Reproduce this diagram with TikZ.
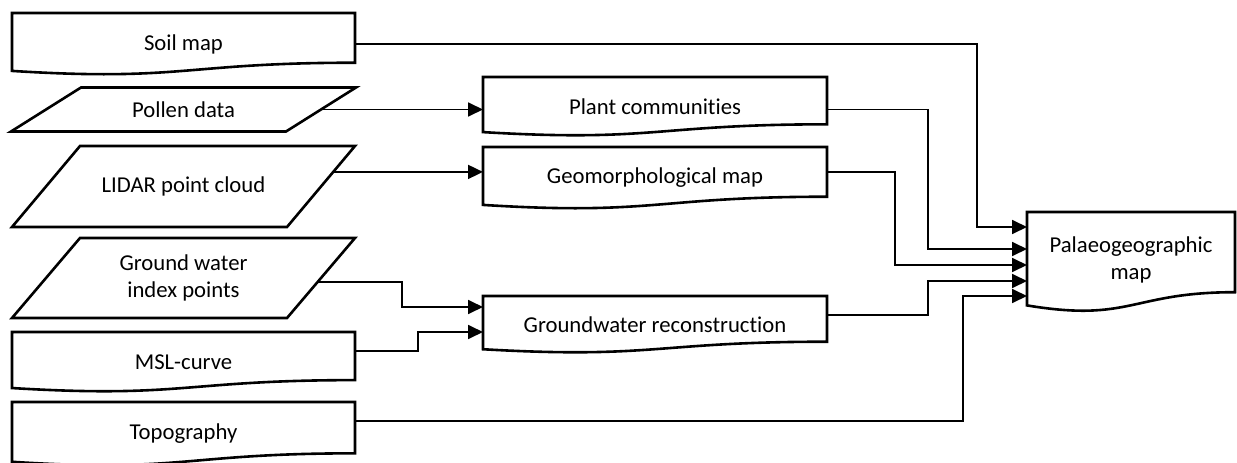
\documentclass[tikz,border=0pt]{standalone}
\usepackage{fontspec}
\setmainfont[Ligatures=NoCommon]{Carlito}
\usetikzlibrary{calc}
\usetikzlibrary{arrows.meta}

\newcommand{\docoutline}[1]{%
  \draw[boxline] (#1.north west) -- (#1.north east)
    -- ($(#1.south east)!0.198!(#1.north east)$)
    .. controls ($(#1.south)!0.198!(#1.north)$) and ($(#1.south)!-0.107!(#1.north)$)
    .. ($(#1.south west)!0.066!(#1.north west)$) -- cycle;}
\newcommand{\dataoutline}[2]{%
  \draw[boxline] ([xshift=#2]#1.north west) coordinate (#1-tl)
    -- ([xshift=#2]#1.north east) coordinate (#1-tr)
    -- ([xshift=-#2]#1.south east) coordinate (#1-br)
    -- ([xshift=-#2]#1.south west) coordinate (#1-bl) -- cycle;}

\begin{document}
\begin{tikzpicture}[x=1pt, y=-1pt,
    every node/.style={font=\fontsize{22.7}{27.7}\selectfont},
    docbox/.style={inner sep=0pt, outer sep=0pt, align=center},
    databox/.style={inner sep=0pt, outer sep=0pt, align=center},
    boxline/.style={line width=2.6pt},
    flow/.style={line width=1.8pt, -{Triangle[length=15pt, width=14pt]}}]
  \useasboundingbox (0,0) rectangle (1237,463);
  \node[docbox, minimum width=343pt, minimum height=62pt] (soil) at (183.5,44) {Soil map};
  \node[databox, minimum width=275pt, minimum height=44pt] (pollen) at (183.5,109.5) {Pollen data};
  \node[databox, minimum width=275pt, minimum height=81pt] (lidar) at (183.5,186.5) {LIDAR point cloud};
  \node[databox, minimum width=275pt, minimum height=80pt] (gw) at (183.5,278) {Ground water\\index points};
  \node[docbox, minimum width=343pt, minimum height=60pt] (msl) at (183.5,362) {MSL-curve};
  \node[docbox, minimum width=343pt, minimum height=64pt] (topo) at (183.5,434) {Topography};
  \node[docbox, minimum width=344pt, minimum height=59pt] (plant) at (655,106.5) {Plant communities};
  \node[docbox, minimum width=344pt, minimum height=62pt] (geo) at (655,178) {Geomorphological map};
  \node[docbox, minimum width=344pt, minimum height=57pt] (gwr) at (655,324.5) {Groundwater reconstruction};
  \node[docbox, minimum width=208pt, minimum height=100pt, text depth=8pt] (palaeo) at (1131,262) {Palaeogeographic\\map};

  \docoutline{soil}
  \dataoutline{pollen}{35pt}
  \dataoutline{lidar}{34pt}
  \dataoutline{gw}{34pt}
  \docoutline{msl}
  \docoutline{topo}
  \docoutline{plant}
  \docoutline{geo}
  \docoutline{gwr}
  \docoutline{palaeo}

  \coordinate (pin1) at ([yshift=35pt]palaeo.west);
  \coordinate (pin2) at ([yshift=13pt]palaeo.west);
  \coordinate (pin3) at ([yshift=-3pt]palaeo.west);
  \coordinate (pin4) at ([yshift=-19pt]palaeo.west);
  \coordinate (pin5) at ([yshift=-34pt]palaeo.west);
  \coordinate (gwrin1) at ([yshift=17.5pt]gwr.west);
  \coordinate (gwrin2) at ([yshift=-7.5pt]gwr.west);
  \coordinate (lidarout) at ($(lidar-br)!0.68!(lidar-tr)$);
  \coordinate (gwout) at ($(gw-br)!0.45!(gw-tr)$);

  \draw[flow] (pollen.east) -- (pollen.east -| plant.west);
  \draw[flow] (lidarout) -- (lidarout -| geo.west);
  \draw[flow] (gwout) -| ([xshift=-81pt]gwrin1) -- (gwrin1);
  \draw[flow] ([yshift=11pt]msl.east) -| ([xshift=-65pt]gwrin2) -- (gwrin2);
  \draw[flow] (soil.east) -| ([xshift=-50pt]pin1) -- (pin1);
  \draw[flow] (plant.east |- pollen.east) -| ([xshift=-99pt]pin2) -- (pin2);
  \draw[flow] (geo.east |- lidarout) -| ([xshift=-132pt]pin3) -- (pin3);
  \draw[flow] ([yshift=9.5pt]gwr.east) -| ([xshift=-99pt]pin4) -- (pin4);
  \draw[flow] ([yshift=13pt]topo.east) -| ([xshift=-64pt]pin5) -- (pin5);
\end{tikzpicture}
\end{document}
